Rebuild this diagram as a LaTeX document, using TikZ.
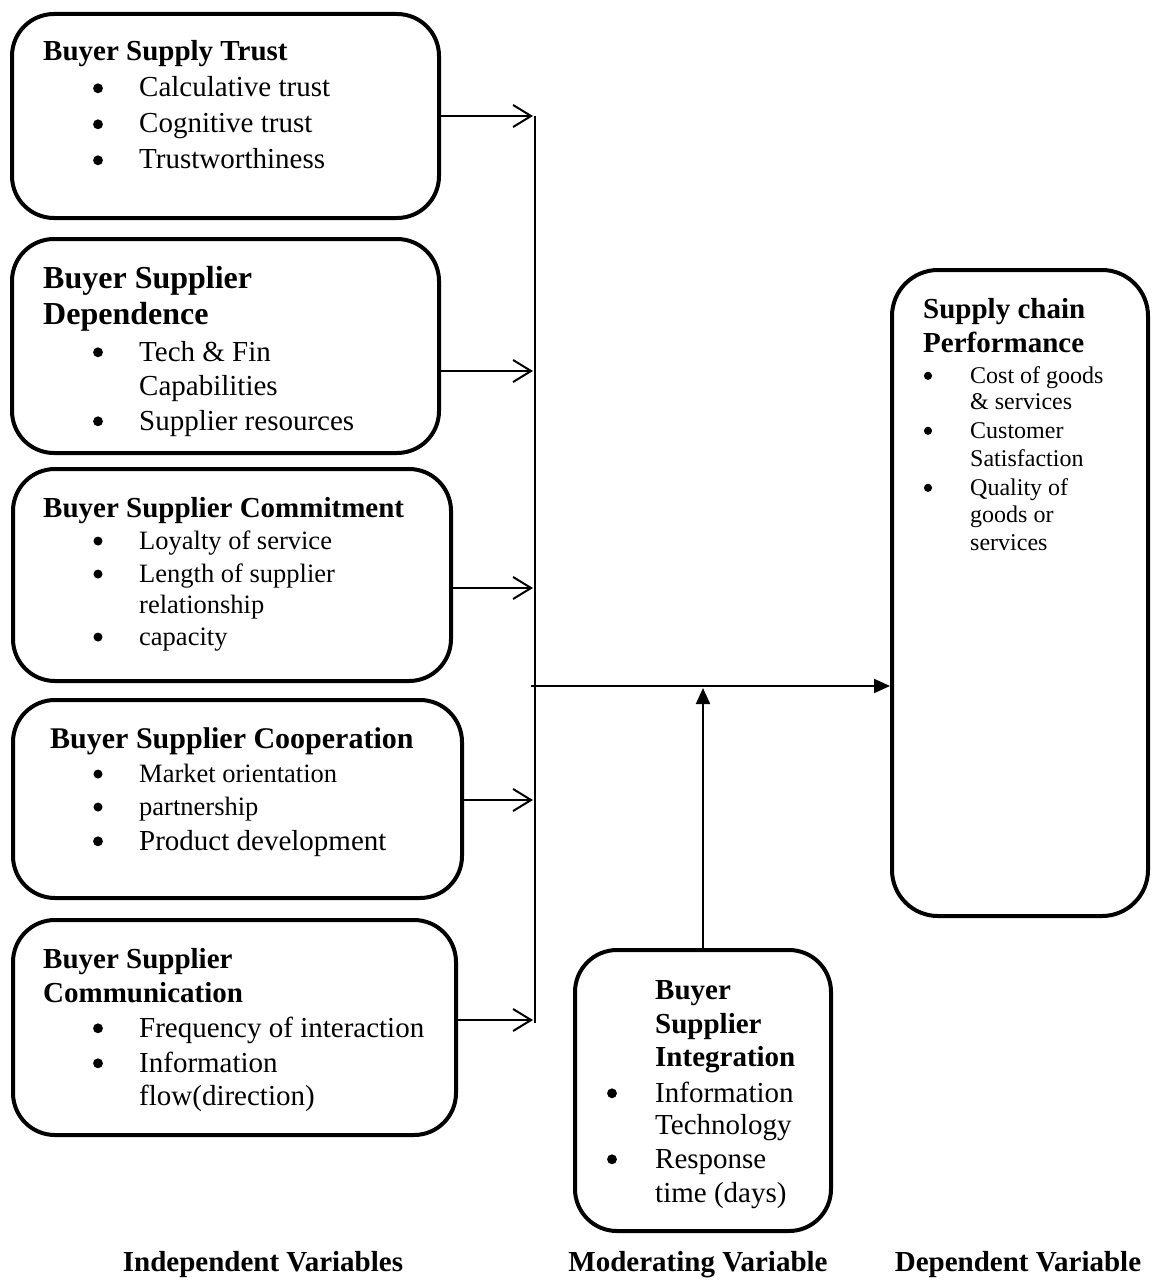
\documentclass[tikz,border=0pt]{standalone}
\usepackage{fontspec}
\setmainfont{Liberation Serif}
\usetikzlibrary{arrows.meta,calc}
\tikzset{
  vbox/.style={draw, line width=4pt, rounded corners=42pt, inner sep=0pt},
  ttl/.style={anchor=base west, inner sep=0pt},
  itm/.style={anchor=base west, inner sep=0pt},
  lbl/.style={anchor=base, inner sep=0pt, font={\bfseries\fontsize{29}{29}\selectfont}},
  link/.style={line width=2pt},
  inarrow/.style={line width=2pt, -{Straight Barb[length=18pt,width=22pt,line width=2pt]}},
  mainarrow/.style={line width=2pt, -{Triangle[length=16pt,width=14pt]}},
}
\newcommand{\fsz}[1]{\fontsize{#1}{#1}\selectfont}
\newcommand{\ttlline}[5]{\node[ttl, font={\bfseries\fsz{#4}}] (#1) at (#2,#3) {#5};}
\newcommand{\bitem}[6]{\fill ({#2},{#4-0.3*#5}) circle[radius={0.17*#5pt}];
  \node[itm, font={\fsz{#5}}] (#1) at (#3,#4) {#6};}
\newcommand{\citem}[5]{\node[itm, font={\fsz{#4}}] (#1) at (#2,#3) {#5};}
\begin{document}
\begin{tikzpicture}[x=1pt,y=-1pt]
\useasboundingbox (0,0) rectangle (1160,1284);

% boxes
\node[vbox, minimum width=427pt, minimum height=204pt] (b1) at (225.5,116) {};
\node[vbox, minimum width=427pt, minimum height=214pt] (b2) at (225.5,346) {};
\node[vbox, minimum width=438pt, minimum height=212pt] (b3) at (232,575) {};
\node[vbox, minimum width=449pt, minimum height=198pt] (b4) at (237.5,799) {};
\node[vbox, minimum width=443pt, minimum height=215pt] (b5) at (234.5,1027.5) {};
\node[vbox, minimum width=256pt, minimum height=281pt] (bi) at (703,1090.5) {};
\node[vbox, minimum width=256pt, minimum height=646pt, rounded corners=46pt] (bp) at (1020,593) {};

% box 1
\ttlline{t1}{43}{61}{29}{Buyer Supply Trust}
\bitem{i11}{98}{139}{97}{29}{Calculative trust}
\bitem{i12}{98}{139}{133}{29}{Cognitive trust}
\bitem{i13}{98}{139}{169}{29}{Trustworthiness}

% box 2
\ttlline{t2a}{43}{288}{32}{Buyer Supplier}
\ttlline{t2b}{43}{324}{32}{Dependence}
\bitem{i21}{98}{139}{361}{29}{Tech \& Fin}
\citem{i21b}{139}{395}{29}{Capabilities}
\bitem{i22}{98}{139}{430}{29}{Supplier resources}

% box 3
\ttlline{t3}{43}{517}{29}{Buyer Supplier Commitment}
\bitem{i31}{98}{139}{549}{26.5}{Loyalty of service}
\bitem{i32}{98}{139}{582}{26.5}{Length of supplier}
\citem{i32b}{139}{613}{26.5}{relationship}
\bitem{i33}{98}{139}{645}{26.5}{capacity}

% box 4
\ttlline{t4}{50}{748}{30}{Buyer Supplier Cooperation}
\bitem{i41}{98}{139}{782}{26.5}{Market orientation}
\bitem{i42}{98}{139}{815}{26.5}{partnership}
\bitem{i43}{98}{139}{850}{29}{Product development}

% box 5
\ttlline{t5a}{43}{968}{29}{Buyer Supplier}
\ttlline{t5b}{43}{1002}{29}{Communication}
\bitem{i51}{98}{139}{1037}{29}{Frequency of interaction}
\bitem{i52}{98}{139}{1072}{29}{Information}
\citem{i52b}{139}{1105}{29}{flow(direction)}

% integration box
\ttlline{tia}{655}{999}{29}{Buyer}
\ttlline{tib}{655}{1033}{29}{Supplier}
\ttlline{tic}{655}{1066}{29}{Integration}
\bitem{ii1}{612}{655}{1102}{29}{Information}
\citem{ii1b}{655}{1134}{29}{Technology}
\bitem{ii2}{612}{655}{1168}{29}{Response}
\citem{ii2b}{655}{1202}{29}{time (days)}

% performance box
\ttlline{tpa}{923}{318}{29}{Supply chain}
\ttlline{tpb}{923}{352}{29}{Performance}
\bitem{ip1}{928}{970}{383}{24}{Cost of goods}
\citem{ip1b}{970}{409}{24}{\& services}
\bitem{ip2}{928}{970}{438}{24}{Customer}
\citem{ip2b}{970}{466}{24}{Satisfaction}
\bitem{ip3}{928}{970}{495}{24}{Quality of}
\citem{ip3b}{970}{522}{24}{goods or}
\citem{ip3c}{970}{550}{24}{services}

% bottom labels
\node[lbl] (l1) at (263,1271) {Independent Variables};
\node[lbl] (l2) at (698,1271) {Moderating Variable};
\node[lbl] (l3) at (1018,1271) {Dependent Variable};

% connectors
\coordinate (vtop) at (535,116);
\coordinate (vbot) at (535,1023);
\coordinate (a1) at (533,116);
\coordinate (a2) at (533,371);
\coordinate (a3) at (533,588);
\coordinate (a4) at (533,800);
\coordinate (a5) at (533,1020);
\coordinate (hs) at (531,686);
\coordinate (mid) at (703,688);

\draw[link] (vtop) -- (vbot);
\draw[inarrow] (b1.east |- a1) -- (a1);
\draw[inarrow] (b2.east |- a2) -- (a2);
\draw[inarrow] (b3.east |- a3) -- (a3);
\draw[inarrow] (b4.east |- a4) -- (a4);
\draw[inarrow] (b5.east |- a5) -- (a5);
\draw[mainarrow] (hs) -- (hs -| bp.west);
\draw[mainarrow] (bi.north) -- (mid);
\end{tikzpicture}
\end{document}
